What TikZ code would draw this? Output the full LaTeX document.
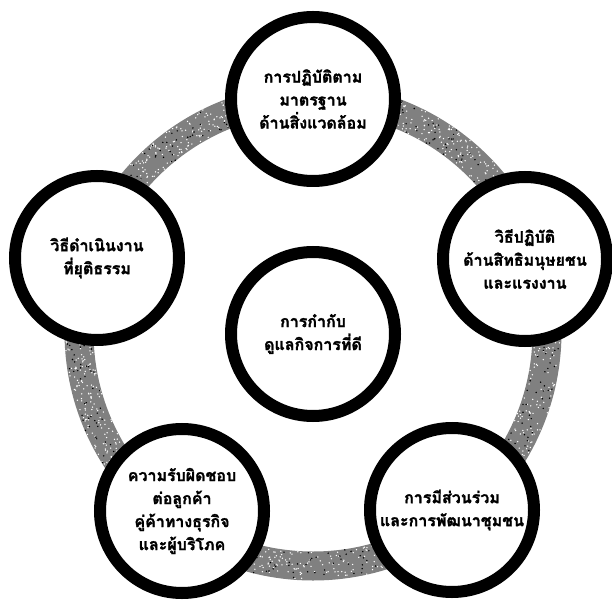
\documentclass[tikz,border=0pt]{standalone}
\usepackage{fontspec}
\newfontfamily\thaifont[Script=Thai, BoldFeatures={FakeBold=1.6}]{Loma}
\begin{document}
\begin{tikzpicture}[x=1pt,y=1pt,
  bubble/.style={circle, draw=black, line width=12pt, fill=white,
    minimum size=164pt, inner sep=0pt, align=center,
    font=\thaifont\bfseries\fontsize{16}{23}\selectfont},
  ringband/.style={line width=29pt, draw=black!50}]
\useasboundingbox (0,0) rectangle (612,600);
\coordinate (C) at (313,268);
\draw[ringband] (C) circle[radius=234];
\pgfmathsetseed{7}
\foreach \i in {1,...,1400}{
  \pgfmathsetmacro\myang{rnd*360}
  \pgfmathsetmacro\myrad{234+(rnd-0.5)*28}
  \fill[white] (C) ++(\myang:\myrad) circle[radius=0.75];
}
\foreach \i in {1,...,500}{
  \pgfmathsetmacro\myang{rnd*360}
  \pgfmathsetmacro\myrad{234+(rnd-0.5)*28}
  \fill[black] (C) ++(\myang:\myrad) circle[radius=0.8];
}
\node[bubble] (env) at (313,501) {การปฏิบัติตาม\\มาตรฐาน\\ด้านสิ่งแวดล้อม};
\node[bubble] (hr) at (525,341) {วิธีปฏิบัติ\\ด้านสิทธิมนุษยชน\\และแรงงาน};
\node[bubble] (comm) at (452,90) {การมีส่วนร่วม\\และการพัฒนาชุมชน};
\node[bubble] (cust) at (182,89) {ความรับผิดชอบ\\ต่อลูกค้า\\คู่ค้าทางธุรกิจ\\และผู้บริโภค};
\node[bubble] (fair) at (97,342) {วิธีดำเนินงาน\\ที่ยุติธรรม};
\node[bubble] (gov) at (313,266) {การกำกับ\\ดูแลกิจการที่ดี};
\end{tikzpicture}
\end{document}
